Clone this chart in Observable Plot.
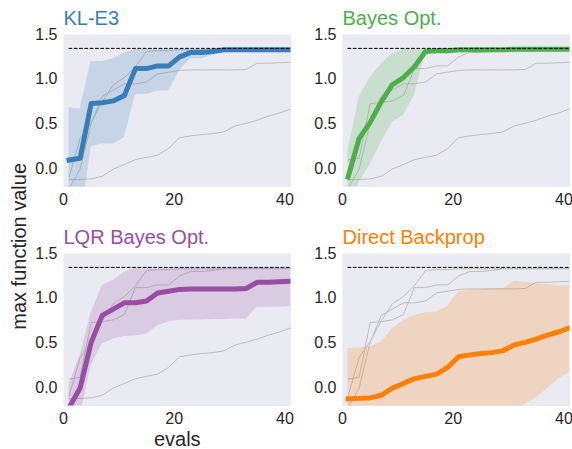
<!DOCTYPE html>
<html>
<head>
<meta charset="utf-8">
<script src="https://cdn.jsdelivr.net/npm/d3@7"></script>
<script src="https://cdn.jsdelivr.net/npm/@observablehq/plot@0.6"></script>
<style>
  html, body { margin: 0; padding: 0; background: #ffffff; }
  #chart { position: relative; width: 572px; height: 449px; overflow: hidden; background: #ffffff; }
  #chart svg { position: absolute; }
</style>
</head>
<body>
<div id="chart"></div>
<script>
// ---- data ----
const evals = [1, 3, 5, 7, 9, 11, 13, 15, 17, 19, 21, 23, 25, 27, 29, 31, 33, 35, 37, 39, 41];
const methods = ["KL-E3", "Bayes Opt.", "LQR Bayes Opt.", "Direct Backprop"];
const methodColors = ["#377eb8", "#4daf4a", "#984ea3", "#ff7f00"];
const optimum = 1.345;
const xTicks = [0, 20, 40];
const yTicks = [0, 0.5, 1.0, 1.5];

const kle3Mean = [0.10, 0.12, 0.73, 0.74, 0.76, 0.82, 1.12, 1.12, 1.15, 1.15, 1.25, 1.30, 1.30, 1.31, 1.33, 1.33, 1.33, 1.33, 1.33, 1.33, 1.33];
const kle3Low  = [-0.60, -0.65, 0.25, 0.28, 0.28, 0.35, 0.83, 0.83, 0.87, 0.87, 1.10, 1.23, 1.23, 1.27, 1.33, 1.33, 1.33, 1.33, 1.33, 1.33, 1.33];
const kle3High = [0.68, 0.67, 1.20, 1.20, 1.23, 1.29, 1.335, 1.335, 1.335, 1.335, 1.335, 1.335, 1.335, 1.335, 1.335, 1.335, 1.335, 1.335, 1.335, 1.335, 1.335];

const boMean = [-0.09, 0.34, 0.52, 0.75, 0.94, 1.02, 1.14, 1.31, 1.32, 1.32, 1.33, 1.33, 1.33, 1.33, 1.33, 1.335, 1.335, 1.335, 1.335, 1.335, 1.335];
const boLow  = [-0.45, -0.15, 0.05, 0.30, 0.52, 0.60, 0.82, 1.31, 1.32, 1.32, 1.33, 1.33, 1.33, 1.33, 1.33, 1.335, 1.335, 1.335, 1.335, 1.335, 1.335];
const boHigh = [0.20, 0.80, 1.02, 1.17, 1.285, 1.335, 1.335, 1.335, 1.335, 1.335, 1.335, 1.335, 1.335, 1.335, 1.335, 1.335, 1.335, 1.335, 1.335, 1.335, 1.335];

const lqrMean = [-0.22, 0.00, 0.51, 0.81, 0.88, 0.95, 0.95, 0.97, 1.06, 1.08, 1.10, 1.105, 1.105, 1.105, 1.105, 1.105, 1.11, 1.18, 1.18, 1.185, 1.19];
const lqrLow  = [-0.50, -0.31, 0.25, 0.49, 0.545, 0.575, 0.58, 0.60, 0.695, 0.74, 0.755, 0.76, 0.76, 0.765, 0.765, 0.77, 0.77, 0.90, 0.90, 0.905, 0.91];
const lqrHigh = [0.04, 0.36, 0.84, 1.14, 1.20, 1.29, 1.335, 1.335, 1.335, 1.335, 1.335, 1.335, 1.335, 1.335, 1.335, 1.335, 1.335, 1.335, 1.335, 1.335, 1.335];

const dbMean = [-0.12, -0.115, -0.11, -0.08, 0.00, 0.05, 0.105, 0.13, 0.155, 0.23, 0.35, 0.37, 0.385, 0.395, 0.415, 0.48, 0.51, 0.545, 0.59, 0.625, 0.67];
const dbLow  = [-0.50, -0.50, -0.50, -0.50, -0.50, -0.50, -0.50, -0.50, -0.50, -0.50, -0.50, -0.50, -0.50, -0.50, -0.35, -0.24, -0.18, -0.107, -0.01, 0.10, 0.17];
const dbHigh = [0.44, 0.445, 0.46, 0.51, 0.66, 0.75, 0.81, 0.84, 0.845, 0.91, 1.075, 1.09, 1.10, 1.11, 1.11, 1.19, 1.18, 1.165, 1.155, 1.14, 1.14];

// ---- layout ----
const font = '"Liberation Sans", Arial, sans-serif';
const textColor = "#262626";
const bgColor = "#EAEAF2";
const plotW = 227.5, plotH = 152.5;
const mL = 63, mT = 40, mR = 2, mB = 43.5;

const panels = [
  {title: methods[0], color: methodColors[0], mean: kle3Mean, low: kle3Low, high: kle3High, px: 63,  py: 34},
  {title: methods[1], color: methodColors[1], mean: boMean,   low: boLow,   high: boHigh,   px: 342, py: 34},
  {title: methods[2], color: methodColors[2], mean: lqrMean,  low: lqrLow,  high: lqrHigh,  px: 63,  py: 253, ylabel: "max function value", xlabel: "evals"},
  {title: methods[3], color: methodColors[3], mean: dbMean,   low: dbLow,   high: dbHigh,   px: 342, py: 253}
];

const chart = document.getElementById("chart");

for (const p of panels) {
  const data = evals.map((x, j) => ({x, mean: p.mean[j], low: p.low[j], high: p.high[j]}));
  const gray = panels.filter(q => q !== p)
    .flatMap(q => evals.map((x, j) => ({x, y: q.mean[j], s: q.title})));

  const marks = [
    Plot.frame({fill: bgColor, stroke: "none"}),
    Plot.line(gray, {x: "x", y: "y", z: "s", stroke: "#bdbdbd", strokeWidth: 1, clip: true}),
    Plot.areaY(data, {x: "x", y1: "low", y2: "high", fill: p.color, fillOpacity: 0.2, clip: true}),
    Plot.line(data, {x: "x", y: "mean", stroke: p.color, strokeWidth: 5, strokeLinecap: "square", strokeLinejoin: "round", clip: true}),
    Plot.ruleY([optimum], {x1: evals[0], x2: evals[evals.length - 1], stroke: "black", strokeWidth: 1, strokeDasharray: "3.7,1.6"}),
    Plot.axisX(xTicks, {tickSize: 0, tickPadding: 6.5, fontSize: 16, fill: textColor, label: null}),
    Plot.axisY(yTicks, {tickSize: 0, tickPadding: 6, fontSize: 16, fill: textColor, tickFormat: d3.format(".1f"), label: null}),
    Plot.text([p.title], {frameAnchor: "top-left", lineAnchor: "bottom", textAnchor: "start", dy: -10, fill: p.color, fontSize: 20})
  ];
  if (p.ylabel) marks.push(Plot.text([p.ylabel], {frameAnchor: "left", rotate: -90, lineAnchor: "bottom", dx: -38, fill: textColor, fontSize: 20}));
  if (p.xlabel) marks.push(Plot.text([p.xlabel], {frameAnchor: "bottom", lineAnchor: "bottom", dy: 40, fill: textColor, fontSize: 20}));

  const svg = Plot.plot({
    width: mL + plotW + mR,
    height: mT + plotH + mB,
    marginLeft: mL, marginTop: mT, marginRight: mR, marginBottom: mB,
    style: {background: "transparent", overflow: "visible", fontFamily: font, fontSize: "16px", color: textColor},
    x: {domain: [0, 41.1]},
    y: {domain: [-0.2, 1.5]},
    marks
  });
  svg.style.left = (p.px - mL) + "px";
  svg.style.top = (p.py - mT) + "px";
  chart.appendChild(svg);
}
</script>
</body>
</html>
